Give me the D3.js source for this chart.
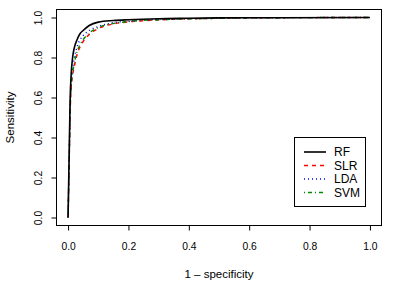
<!DOCTYPE html>
<html>
<head>
<meta charset="utf-8">
<script src="https://cdnjs.cloudflare.com/ajax/libs/d3/7.8.5/d3.min.js"></script>
<style>
  body { margin: 0; background: #fff; }
  svg text { font-family: "Liberation Sans", Arial, sans-serif; }
</style>
</head>
<body>
<script>
// ROC curves
var fpr = [0, 0.004, 0.007, 0.01, 0.015, 0.02, 0.03, 0.04, 0.05, 0.07, 0.1, 0.15, 0.2, 0.3, 0.4, 0.5, 0.7, 1];
var tprRF  = [0, 0.35, 0.60, 0.71, 0.80, 0.845, 0.89, 0.92, 0.935, 0.96, 0.977, 0.985, 0.989, 0.994, 0.996, 0.998, 0.999, 1];
var tprSLR = [0, 0.30, 0.53, 0.64, 0.71, 0.75, 0.815, 0.855, 0.88, 0.915, 0.945, 0.968, 0.978, 0.988, 0.993, 0.996, 0.999, 1];
var tprLDA = [0, 0.32, 0.56, 0.67, 0.74, 0.79, 0.855, 0.89, 0.91, 0.935, 0.955, 0.974, 0.982, 0.99, 0.994, 0.996, 0.999, 1];
var tprSVM = [0, 0.31, 0.54, 0.65, 0.72, 0.765, 0.83, 0.865, 0.89, 0.922, 0.95, 0.97, 0.98, 0.989, 0.993, 0.996, 0.999, 1];
var seriesNames = ['RF', 'SLR', 'LDA', 'SVM'];
var xTicks = [0, 0.2, 0.4, 0.6, 0.8, 1.0];
var yTicks = [0, 0.2, 0.4, 0.6, 0.8, 1.0];

var styles = {
  RF:  {color: '#000000', dash: null,      width: 1.6},
  SLR: {color: '#ff0000', dash: '4,4',     width: 1.4},
  LDA: {color: '#0000ff', dash: '1,3',     width: 1.4},
  SVM: {color: '#008b00', dash: '1,3,4,3', width: 1.4}
};

var W = 411, H = 286;
var box = {left: 56, right: 382, top: 9.5, bottom: 225.5};

var svg = d3.select('body').append('svg')
  .attr('width', W)
  .attr('height', H);

var x = d3.scaleLinear().domain([-0.04, 1.04]).range([box.left, box.right]);
var y = d3.scaleLinear().domain([-0.04, 1.04]).range([box.bottom, box.top]);

var series = [tprRF, tprSLR, tprLDA, tprSVM].map(function(t, i){
  return {name: seriesNames[i], pts: fpr.map(function(f, j){ return [f, t[j]]; })};
});

var line = d3.line()
  .x(function(d){ return x(d[0]); })
  .y(function(d){ return y(d[1]); })
  .curve(d3.curveMonotoneX);

// RF drawn last so it sits on top
var order = [1, 2, 3, 0];
svg.selectAll('path.roc').data(order.map(function(i){ return series[i]; }))
  .enter().append('path')
  .attr('class', 'roc')
  .attr('d', function(d){ return line(d.pts); })
  .attr('fill', 'none')
  .attr('stroke', function(d){ return styles[d.name].color; })
  .attr('stroke-width', function(d){ return styles[d.name].width; })
  .attr('stroke-dasharray', function(d){ return styles[d.name].dash; });

// plot box
svg.append('rect')
  .attr('x', box.left + 0.5)
  .attr('y', box.top)
  .attr('width', box.right - box.left - 1)
  .attr('height', box.bottom - box.top)
  .attr('fill', 'none')
  .attr('stroke', '#000');

// axes, R style
var xAxis = svg.append('g')
  .attr('transform', 'translate(0,' + box.bottom + ')')
  .call(d3.axisBottom(x).tickValues(xTicks).tickFormat(d3.format('.1f')).tickSizeOuter(0).tickSize(5).tickPadding(12));
var yAxis = svg.append('g')
  .attr('transform', 'translate(' + (box.left + 0.5) + ',0)')
  .call(d3.axisLeft(y).tickValues(yTicks).tickFormat(d3.format('.1f')).tickSizeOuter(0).tickSize(5).tickPadding(0));

[xAxis, yAxis].forEach(function(a){
  a.select('.domain').remove();
  a.selectAll('text').attr('font-size', 10.3).attr('fill', '#000')
    .style('font-family', '"Liberation Sans", Arial, sans-serif');
});

yAxis.selectAll('.tick text')
  .attr('x', null).attr('dy', null)
  .attr('text-anchor', 'middle')
  .attr('transform', 'translate(-18,0) rotate(-90)')
  .attr('dy', '0.35em');

// axis lines spanning first to last tick
svg.append('line')
  .attr('x1', x(0)).attr('x2', x(1))
  .attr('y1', box.bottom).attr('y2', box.bottom)
  .attr('stroke', '#000');
svg.append('line')
  .attr('x1', box.left + 0.5).attr('x2', box.left + 0.5)
  .attr('y1', y(0)).attr('y2', y(1))
  .attr('stroke', '#000');

svg.append('text')
  .attr('x', (box.left + box.right) / 2)
  .attr('y', 278)
  .attr('text-anchor', 'middle')
  .attr('font-size', 11.5)
  .text('1 \u2013 specificity');

svg.append('text')
  .attr('transform', 'translate(14,' + ((box.top + box.bottom) / 2) + ') rotate(-90)')
  .attr('text-anchor', 'middle')
  .attr('font-size', 11.5)
  .text('Sensitivity');

// legend
var leg = svg.append('g');
leg.append('rect')
  .attr('x', 294.5).attr('y', 137.5)
  .attr('width', 71).attr('height', 69)
  .attr('fill', '#fff').attr('stroke', '#000');

var rows = leg.selectAll('g.row').data(seriesNames)
  .enter().append('g')
  .attr('class', 'row')
  .attr('transform', function(d, i){ return 'translate(0,' + (152 + i * 13.5) + ')'; });

rows.append('line')
  .attr('x1', 304).attr('x2', 326)
  .attr('stroke', function(d){ return styles[d].color; })
  .attr('stroke-width', function(d){ return styles[d].width; })
  .attr('stroke-dasharray', function(d){ return styles[d].dash; });

rows.append('text')
  .attr('x', 334)
  .attr('dy', '0.35em')
  .attr('font-size', 12)
  .text(function(d){ return d; });
</script>
</body>
</html>
